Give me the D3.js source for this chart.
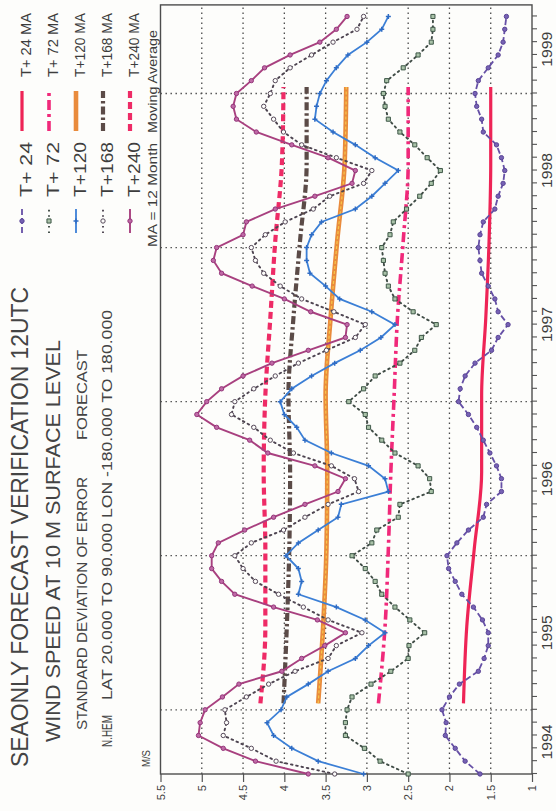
<!DOCTYPE html>
<html>
<head>
<meta charset="utf-8">
<script src="https://cdn.jsdelivr.net/npm/d3@7"></script>
<style>
  html, body { margin: 0; padding: 0; background: #fdfdfb; }
  svg { display: block; font-family: "Liberation Sans", Arial, Helvetica, sans-serif; }
</style>
</head>
<body>
<svg id="chart" width="556" height="811"></svg>
<script>
// Monthly verification, Aug 1994 .. Jul 1999
const months = d3.utcMonths(new Date(Date.UTC(1994, 7, 1)), new Date(Date.UTC(1999, 7, 1)));

// Standard deviation of error (m/s) per forecast range
const t24 = [1.63,1.81,1.93,2.05,2.04,2.09,2.00,1.88,1.65,1.58,1.53,1.53,
             1.60,1.71,1.85,1.93,2.01,2.03,1.91,1.77,1.59,1.55,1.37,1.37,
             1.43,1.51,1.59,1.67,1.77,1.89,1.87,1.81,1.69,1.49,1.41,1.29,
             1.41,1.45,1.53,1.61,1.63,1.65,1.63,1.59,1.45,1.41,1.35,1.33,
             1.37,1.43,1.59,1.61,1.67,1.69,1.65,1.53,1.41,1.35,1.33,1.31];
const t72 = [2.50,2.84,3.03,3.26,3.26,3.24,3.18,2.95,2.71,2.50,2.49,2.30,
             2.48,2.66,2.82,2.90,3.02,3.18,2.94,2.88,2.62,2.60,2.22,2.24,
             2.38,2.66,2.82,2.98,3.02,3.22,3.04,2.90,2.60,2.42,2.34,2.16,
             2.44,2.66,2.74,2.78,2.80,2.82,2.72,2.68,2.52,2.36,2.22,2.11,
             2.27,2.42,2.60,2.74,2.78,2.80,2.76,2.56,2.38,2.22,2.20,2.20];
const t120 = [3.04,3.59,3.91,4.13,4.21,4.04,3.97,3.71,3.47,3.14,2.98,2.78,
              3.02,3.37,3.83,3.79,3.83,3.98,3.83,3.59,3.35,3.31,2.74,2.78,
              2.98,3.43,3.75,3.85,4.00,4.05,3.91,3.67,3.39,3.08,2.83,2.66,
              2.94,3.33,3.50,3.69,3.73,3.73,3.67,3.55,3.14,2.94,2.78,2.62,
              2.90,3.14,3.41,3.63,3.61,3.57,3.49,3.37,3.23,3.00,2.82,2.74];
const t168 = [3.39,4.10,4.40,4.74,4.70,4.72,4.46,4.19,3.87,3.47,3.37,3.06,
              3.47,3.77,4.07,4.35,4.50,4.60,4.40,4.01,3.75,3.47,3.10,3.15,
              3.43,3.89,4.17,4.37,4.64,4.60,4.37,4.11,3.83,3.49,3.14,3.02,
              3.40,3.79,4.05,4.25,4.35,4.40,4.23,3.99,3.65,3.45,3.04,2.94,
              3.37,3.79,4.01,4.13,4.25,4.17,4.11,3.93,3.67,3.41,3.12,3.04];
const t240 = [3.71,4.35,4.74,5.04,5.02,4.96,4.75,4.55,4.03,3.79,3.51,3.26,
              3.60,4.13,4.60,4.76,4.88,4.88,4.80,4.48,4.13,3.75,3.35,3.26,
              3.63,4.20,4.42,4.82,5.06,4.94,4.76,4.50,4.15,3.71,3.26,3.24,
              3.68,4.00,4.39,4.76,4.86,4.82,4.50,4.46,4.11,3.63,3.18,3.14,
              3.47,3.91,4.34,4.58,4.62,4.58,4.40,4.24,3.93,3.57,3.37,3.24];

// 12-month moving averages, sampled at window centres
const maCentres = ["1995-01","1995-07","1996-01","1996-07","1997-01","1997-07","1998-01","1998-07","1999-01"];
const ma24  = [1.83,1.79,1.70,1.61,1.61,1.56,1.52,1.50,1.50];
const ma72  = [2.86,2.78,2.74,2.71,2.67,2.63,2.56,2.50,2.50];
const ma120 = [3.59,3.53,3.49,3.48,3.50,3.44,3.36,3.27,3.25];
const ma168 = [4.01,3.97,3.94,3.93,3.95,3.89,3.81,3.73,3.73];
const ma240 = [4.29,4.23,4.23,4.25,4.23,4.17,4.11,4.03,4.01];

const yTicks = [5.5, 5, 4.5, 4, 3.5, 3, 2.5, 2, 1.5, 1];
const yGrid  = [5, 4.5, 4, 3.5, 3, 2.5, 2, 1.5];

const W = 556, H = 811;
const svg = d3.select("#chart");
svg.append("rect").attr("width", W).attr("height", H).attr("fill", "#fdfdfb");

// The whole chart is laid out in a landscape frame and turned a quarter-turn anticlockwise
const g = svg.append("g").attr("transform", `translate(0,${H}) rotate(-90)`);

const monthIdx = d => d3.utcMonth.count(months[0], d);
const parseMonth = d3.utcParse("%Y-%m");

const x = d3.scaleLinear().domain([0, 59.9]).range([37, 806.1]);
const y = d3.scaleLinear().domain([1, 5.5]).range([532, 160.5]);

const ink = "#3d3d3d";

// grid
const grid = g.append("g").attr("stroke", "#4a4a4a").attr("stroke-width", 1.3)
  .attr("stroke-dasharray", "1.4,3.6").attr("fill", "none");
grid.selectAll("line.v").data(yGrid).join("line")
  .attr("x1", x(0)).attr("x2", x(59.9)).attr("y1", d => y(d)).attr("y2", d => y(d));
const janIdx = months.filter(d => d.getUTCMonth() === 0).map(monthIdx);
grid.selectAll("line.t").data(janIdx).join("line")
  .attr("x1", d => x(d)).attr("x2", d => x(d)).attr("y1", y(5.5)).attr("y2", y(1));

// value axis
const yAxis = g.append("g").attr("transform", `translate(${x(0)},0)`)
  .call(d3.axisLeft(y).tickValues(yTicks).tickSize(8).tickPadding(3).tickFormat(d3.format("")));
yAxis.select(".domain").remove();
yAxis.selectAll("line").attr("stroke", "#555").attr("stroke-width", 1.2);
yAxis.selectAll("text").attr("fill", ink).attr("font-size", 11)
  .attr("font-family", "'Liberation Sans', Arial, sans-serif");

// time axis: monthly ticks
const xAxis = g.append("g").attr("transform", `translate(0,${y(1)})`)
  .call(d3.axisBottom(x).tickValues(d3.range(months.length)).tickSize(5).tickFormat(""));
xAxis.select(".domain").remove();
xAxis.selectAll("line").attr("stroke", "#555").attr("stroke-width", 1.1);

// year labels centred on each year's span
const yearSpans = d3.groups(months, d => d.getUTCFullYear()).map(([yr, ms]) => {
  const a = Math.max(0, monthIdx(ms[0]));
  const b = Math.min(59.9, monthIdx(ms[ms.length - 1]) + 1);
  return { yr, mid: (a + b) / 2 };
});
g.append("g").selectAll("text").data(yearSpans).join("text")
  .attr("x", d => x(d.mid)).attr("y", 552).attr("text-anchor", "middle")
  .attr("font-size", 14).attr("fill", ink)
  .attr("textLength", 35).attr("lengthAdjust", "spacingAndGlyphs")
  .text(d => d.yr);

// frame
g.append("rect").attr("x", x(0)).attr("y", y(5.5))
  .attr("width", x(59.9) - x(0)).attr("height", y(1) - y(5.5))
  .attr("fill", "none").attr("stroke", "#4d4d4d").attr("stroke-width", 1.4);

g.append("text").attr("x", 44).attr("y", 150).attr("font-size", 10).attr("fill", ink)
  .attr("textLength", 17).attr("lengthAdjust", "spacingAndGlyphs").text("M/S");

// moving averages
const maX = d => monthIdx(parseMonth(d)) + 0.5;
const maDefs = [
  { key: "T+ 24 MA", values: ma24,  color: "#ee2456", width: 3.2, dash: null },
  { key: "T+ 72 MA", values: ma72,  color: "#f0297a", width: 3.6, dash: "10,4,3,4" },
  { key: "T+120 MA", values: ma120, color: "#e98b3c", width: 4.6, dash: null },
  { key: "T+168 MA", values: ma168, color: "#5b4b47", width: 4.2, dash: "8,3,2.5,3" },
  { key: "T+240 MA", values: ma240, color: "#ee2b66", width: 4.2, dash: "7,4" }
];
const maLine = d3.line().x(d => x(d[0])).y(d => y(d[1])).curve(d3.curveMonotoneX);
maDefs.forEach(m => {
  g.append("path").datum(maCentres.map((c, i) => [maX(c), m.values[i]]))
    .attr("d", maLine).attr("fill", "none").attr("stroke", m.color)
    .attr("stroke-width", m.width).attr("stroke-dasharray", m.dash);
});
// yellow sheen along the orange average
g.append("path").datum(maCentres.map((c, i) => [maX(c), ma120[i]]))
  .attr("d", maLine).attr("fill", "none").attr("stroke", "#f7c84a")
  .attr("stroke-width", 1.2).attr("stroke-dasharray", "3,2");

// monthly series
const seriesDefs = [
  { key: "T+ 24", values: t24,  color: "#6650a6", width: 1.8, dash: "6,3",     marker: "dot",    fill: "#7662b4", stroke: "#5a4496" },
  { key: "T+ 72", values: t72,  color: "#3f4b45", width: 1.9, dash: "1.6,3.8", marker: "square", fill: "#a9c2a8", stroke: "#3f5848" },
  { key: "T+120", values: t120, color: "#3b7fd6", width: 1.8, dash: null,      marker: "plus",   fill: "none",    stroke: "#2f6cc4" },
  { key: "T+168", values: t168, color: "#4d4450", width: 1.9, dash: "1.6,3.8", marker: "ring",   fill: "#fdfdfb", stroke: "#574a5a" },
  { key: "T+240", values: t240, color: "#a8407f", width: 1.9, dash: null,      marker: "dot",    fill: "#c06aa6", stroke: "#94357a" }
];
const markerPath = {
  dot:    d3.symbol(d3.symbolCircle, 15)(),
  ring:   d3.symbol(d3.symbolCircle, 15)(),
  square: d3.symbol(d3.symbolSquare, 17)(),
  plus:   "M-2.5,0H2.5M0,-2.5V2.5"
};
const line = d3.line().x((d, i) => x(i)).y(d => y(d));
seriesDefs.forEach(s => {
  g.append("path").datum(s.values).attr("d", line).attr("fill", "none")
    .attr("stroke", s.color).attr("stroke-width", s.width)
    .attr("stroke-dasharray", s.dash).attr("stroke-linecap", s.dash && s.dash.startsWith("1.6") ? "round" : "butt");
  g.append("g").selectAll("path").data(s.values).join("path")
    .attr("transform", (d, i) => `translate(${x(i)},${y(d)})`)
    .attr("d", markerPath[s.marker])
    .attr("fill", s.fill).attr("stroke", s.stroke).attr("stroke-width", s.marker === "plus" ? 1.5 : 1);
});

// titles
const titles = [
  { text: "SEAONLY  FORECAST  VERIFICATION  12UTC", x: 44, y: 28, size: 24, len: 480 },
  { text: "WIND SPEED AT 10 M  SURFACE LEVEL", x: 69, y: 60, size: 21, len: 402 },
  { text: "STANDARD DEVIATION OF ERROR", x: 81, y: 87, size: 14, len: 253 },
  { text: "FORECAST", x: 371, y: 87, size: 14, len: 90 },
  { text: "N.HEM", x: 64, y: 112, size: 14, len: 32 },
  { text: "LAT 20.000 TO 90.000  LON -180.000 TO 180.000", x: 111, y: 112, size: 14, len: 390 }
];
g.append("g").selectAll("text").data(titles).join("text")
  .attr("x", d => d.x).attr("y", d => d.y).attr("font-size", d => d.size)
  .attr("fill", "#444").attr("textLength", d => d.len).attr("lengthAdjust", "spacingAndGlyphs")
  .text(d => d.text);

// legend
const rows = [22, 49, 76, 103, 130];
const leg = g.append("g");
seriesDefs.forEach((s, i) => {
  const r = rows[i];
  leg.append("line").attr("x1", 578).attr("x2", 602).attr("y1", r).attr("y2", r)
    .attr("stroke", s.color).attr("stroke-width", s.width).attr("stroke-dasharray", s.dash);
  leg.append("path").attr("transform", `translate(590,${r})`).attr("d", markerPath[s.marker])
    .attr("fill", s.fill).attr("stroke", s.stroke).attr("stroke-width", s.marker === "plus" ? 1.5 : 1);
  leg.append("text").attr("x", 614).attr("y", r + 10).attr("font-size", 16).attr("fill", ink)
    .attr("textLength", 55).attr("lengthAdjust", "spacingAndGlyphs").text(s.key);
  const m = maDefs[i];
  leg.append("line").attr("x1", 680).attr("x2", 720).attr("y1", r).attr("y2", r)
    .attr("stroke", m.color).attr("stroke-width", m.width).attr("stroke-dasharray", m.dash);
  leg.append("text").attr("x", 734).attr("y", r + 9).attr("font-size", 14).attr("fill", ink)
    .attr("textLength", 64).attr("lengthAdjust", "spacingAndGlyphs").text(m.key);
});
leg.append("text").attr("x", 564).attr("y", 157).attr("font-size", 13.5).attr("fill", ink)
  .attr("textLength", 104).attr("lengthAdjust", "spacingAndGlyphs").text("MA = 12 Month");
leg.append("text").attr("x", 678).attr("y", 157).attr("font-size", 13.5).attr("fill", ink)
  .attr("textLength", 103).attr("lengthAdjust", "spacingAndGlyphs").text("Moving Average");
</script>
</body>
</html>
